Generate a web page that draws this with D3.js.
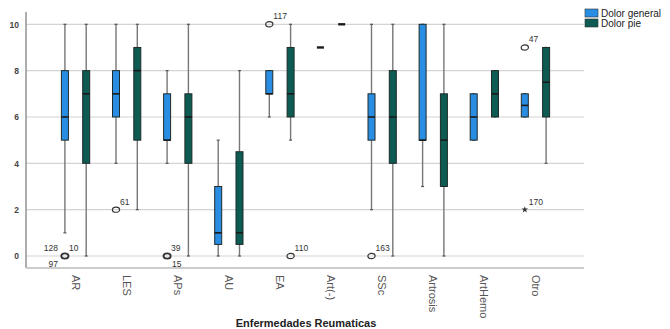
<!DOCTYPE html>
<html>
<head>
<meta charset="utf-8">
<script src="https://cdn.jsdelivr.net/npm/d3@7"></script>
<style>
  body { margin: 0; background: #fff; }
  svg { font-family: "Liberation Sans", Arial, sans-serif; }
</style>
</head>
<body>
<svg id="chart" width="670" height="329"></svg>
<script>
// categories and series
var categories = ['AR', 'LES', 'APs', 'AU', 'EA', 'Art(-)', 'SSc', 'Artrosis', 'ArtHemo', 'Otro'];
var series = ['Dolor general', 'Dolor pie'];
var colors = ['#2a8de4', '#0d5b52'];

// five-number summaries, one entry per category
var generalMin = [1, 4, 4, 0, 6, 9, 2, 3, 5, 6];
var generalQ1  = [5, 6, 5, 0.5, 7, 9, 5, 5, 5, 6];
var generalMed = [6, 7, 5, 1, 7, 9, 6, 5, 6, 6.5];
var generalQ3  = [8, 8, 7, 3, 8, 9, 7, 10, 7, 7];
var generalMax = [10, 10, 8, 5, 8, 9, 10, 10, 7, 7];

var pieMin = [0, 2, 0, 0, 5, 10, 0, 0, 6, 4];
var pieQ1  = [4, 5, 4, 0.5, 6, 10, 4, 3, 6, 6];
var pieMed = [7, 8, 6, 1, 7, 10, 6, 5, 7, 7.5];
var pieQ3  = [8, 9, 7, 4.5, 9, 10, 8, 7, 8, 9];
var pieMax = [10, 10, 10, 8, 10, 10, 10, 10, 8, 9];

// outliers: category, series index, value, symbol, labels [text, side]
var outliers = [
  {cat: 'AR', s: 0, v: 0, sym: 'o', labels: [['128', 'left'], ['10', 'right'], ['97', 'below']]},
  {cat: 'LES', s: 0, v: 2, sym: 'o', labels: [['61', 'right']]},
  {cat: 'APs', s: 0, v: 0, sym: 'o', labels: [['39', 'right'], ['15', 'belowright']]},
  {cat: 'EA', s: 0, v: 10, sym: 'o', labels: [['117', 'right']]},
  {cat: 'EA', s: 1, v: 0, sym: 'o', labels: [['110', 'right']]},
  {cat: 'SSc', s: 0, v: 0, sym: 'o', labels: [['163', 'right']]},
  {cat: 'Otro', s: 0, v: 9, sym: 'o', labels: [['47', 'right']]},
  {cat: 'Otro', s: 0, v: 2, sym: '*', labels: [['170', 'right']]}
];

var yTicks = [0, 2, 4, 6, 8, 10];

var boxes = [];
categories.forEach(function(c, i) {
  boxes.push({cat: c, s: 0, min: generalMin[i], q1: generalQ1[i], med: generalMed[i], q3: generalQ3[i], max: generalMax[i]});
  boxes.push({cat: c, s: 1, min: pieMin[i], q1: pieQ1[i], med: pieMed[i], q3: pieQ3[i], max: pieMax[i]});
});

var svg = d3.select('#chart');

var plotLeft = 26, plotRight = 584, plotTop = 12, plotBottom = 268;

var x = d3.scaleBand().domain(categories).range([50, 561]);
var xs = d3.scalePoint().domain(d3.range(series.length)).range([0, x.bandwidth()]).padding(0.7);
var y = d3.scaleLinear().domain([0, 10]).range([256, 24.3]);

var cx = function(d) { return x(d.cat) + xs(d.s); };
var boxW = 7;

// gridlines
svg.append('g')
  .selectAll('line')
  .data(yTicks)
  .enter()
  .append('line')
  .attr('x1', plotLeft)
  .attr('x2', plotRight)
  .attr('y1', function(d) { return y(d); })
  .attr('y2', function(d) { return y(d); })
  .attr('stroke', '#d4d4d4')
  .attr('stroke-width', 1.2);

// y axis
var yAxis = svg.append('g')
  .attr('transform', 'translate(' + plotLeft + ',0)')
  .call(d3.axisLeft(y).tickValues(yTicks).tickSize(0).tickPadding(7));
yAxis.select('.domain').remove();
yAxis.selectAll('text')
  .attr('font-size', 8.5)
  .attr('font-weight', 'bold')
  .attr('fill', '#444');

svg.append('line')
  .attr('x1', plotLeft).attr('x2', plotLeft)
  .attr('y1', plotTop).attr('y2', plotBottom)
  .attr('stroke', '#999').attr('stroke-width', 1.6);
svg.append('line')
  .attr('x1', plotLeft).attr('x2', plotRight)
  .attr('y1', plotBottom).attr('y2', plotBottom)
  .attr('stroke', '#ccc').attr('stroke-width', 2);

// x axis labels, rotated
var xAxis = svg.append('g')
  .attr('transform', 'translate(0,' + plotBottom + ')')
  .call(d3.axisBottom(x).tickSize(0).tickPadding(0));
xAxis.select('.domain').remove();
xAxis.selectAll('text')
  .attr('transform', 'translate(0,7) rotate(90)')
  .attr('text-anchor', 'start')
  .attr('dy', '0.35em')
  .attr('dx', 0)
  .attr('y', 0)
  .attr('font-size', 11)
  .attr('fill', '#555');

// axis title
svg.append('text')
  .attr('x', 306)
  .attr('y', 327)
  .attr('text-anchor', 'middle')
  .attr('font-size', 11)
  .attr('font-weight', 'bold')
  .attr('fill', '#222')
  .text('Enfermedades Reumaticas');

// boxes
var g = svg.append('g').selectAll('g.box')
  .data(boxes)
  .enter()
  .append('g')
  .attr('class', 'box');

g.filter(function(d) { return d.max > d.min; })
  .append('line')
  .attr('x1', cx).attr('x2', cx)
  .attr('y1', function(d) { return y(d.max); })
  .attr('y2', function(d) { return y(d.min); })
  .attr('stroke', '#777')
  .attr('stroke-width', 1.4);

g.filter(function(d) { return d.max > d.min; })
  .selectAll('line.cap')
  .data(function(d) { return [{d: d, v: d.min}, {d: d, v: d.max}]; })
  .enter()
  .append('line')
  .attr('class', 'cap')
  .attr('x1', function(e) { return cx(e.d) - 1.5; })
  .attr('x2', function(e) { return cx(e.d) + 1.5; })
  .attr('y1', function(e) { return y(e.v); })
  .attr('y2', function(e) { return y(e.v); })
  .attr('stroke', '#555')
  .attr('stroke-width', 1.2);

g.filter(function(d) { return d.q3 > d.q1; })
  .append('rect')
  .attr('x', function(d) { return cx(d) - boxW / 2; })
  .attr('y', function(d) { return y(d.q3); })
  .attr('width', boxW)
  .attr('height', function(d) { return y(d.q1) - y(d.q3); })
  .attr('fill', function(d) { return colors[d.s]; })
  .attr('stroke', '#1e2b2a')
  .attr('stroke-width', 1);

// medians (also the single-value dashes)
g.append('line')
  .attr('x1', function(d) { return cx(d) - boxW / 2; })
  .attr('x2', function(d) { return cx(d) + boxW / 2; })
  .attr('y1', function(d) { return y(d.med); })
  .attr('y2', function(d) { return y(d.med); })
  .attr('stroke', '#1a1a1a')
  .attr('stroke-width', function(d) { return d.q3 > d.q1 ? 1.6 : 2.4; });

// outliers
var og = svg.append('g').selectAll('g.outlier')
  .data(outliers)
  .enter()
  .append('g')
  .attr('class', 'outlier')
  .attr('transform', function(d) { return 'translate(' + cx(d) + ',' + y(d.v) + ')'; });

og.filter(function(d) { return d.sym === 'o'; })
  .append('ellipse')
  .attr('rx', 3.6).attr('ry', 2.6)
  .attr('fill', 'none')
  .attr('stroke', '#333')
  .attr('stroke-width', function(d) { return d.labels.length > 1 ? 1.8 : 1.2; });

og.filter(function(d) { return d.sym === '*'; })
  .append('path')
  .attr('d', d3.symbol().type(d3.symbolStar).size(14))
  .attr('fill', '#333');

var labelPos = {
  left: [-7, -5, 'end'],
  right: [4, -5, 'start'],
  below: [-7, 11, 'end'],
  belowright: [5, 11, 'start']
};

og.selectAll('text')
  .data(function(d) { return d.labels; })
  .enter()
  .append('text')
  .attr('x', function(l) { return labelPos[l[1]][0]; })
  .attr('y', function(l) { return labelPos[l[1]][1]; })
  .attr('text-anchor', function(l) { return labelPos[l[1]][2]; })
  .attr('font-size', 8.5)
  .attr('fill', '#333')
  .text(function(l) { return l[0]; });

// legend
var legend = svg.append('g')
  .attr('transform', 'translate(585,9)')
  .selectAll('g')
  .data(series)
  .enter()
  .append('g')
  .attr('transform', function(d, i) { return 'translate(0,' + i * 10 + ')'; });

legend.append('rect')
  .attr('width', 13).attr('height', 8)
  .attr('fill', function(d, i) { return colors[i]; })
  .attr('stroke', '#333').attr('stroke-width', 0.6);

legend.append('text')
  .attr('x', 16).attr('y', 7.5)
  .attr('font-size', 10)
  .attr('fill', '#222')
  .text(function(d) { return d; });
</script>
</body>
</html>
